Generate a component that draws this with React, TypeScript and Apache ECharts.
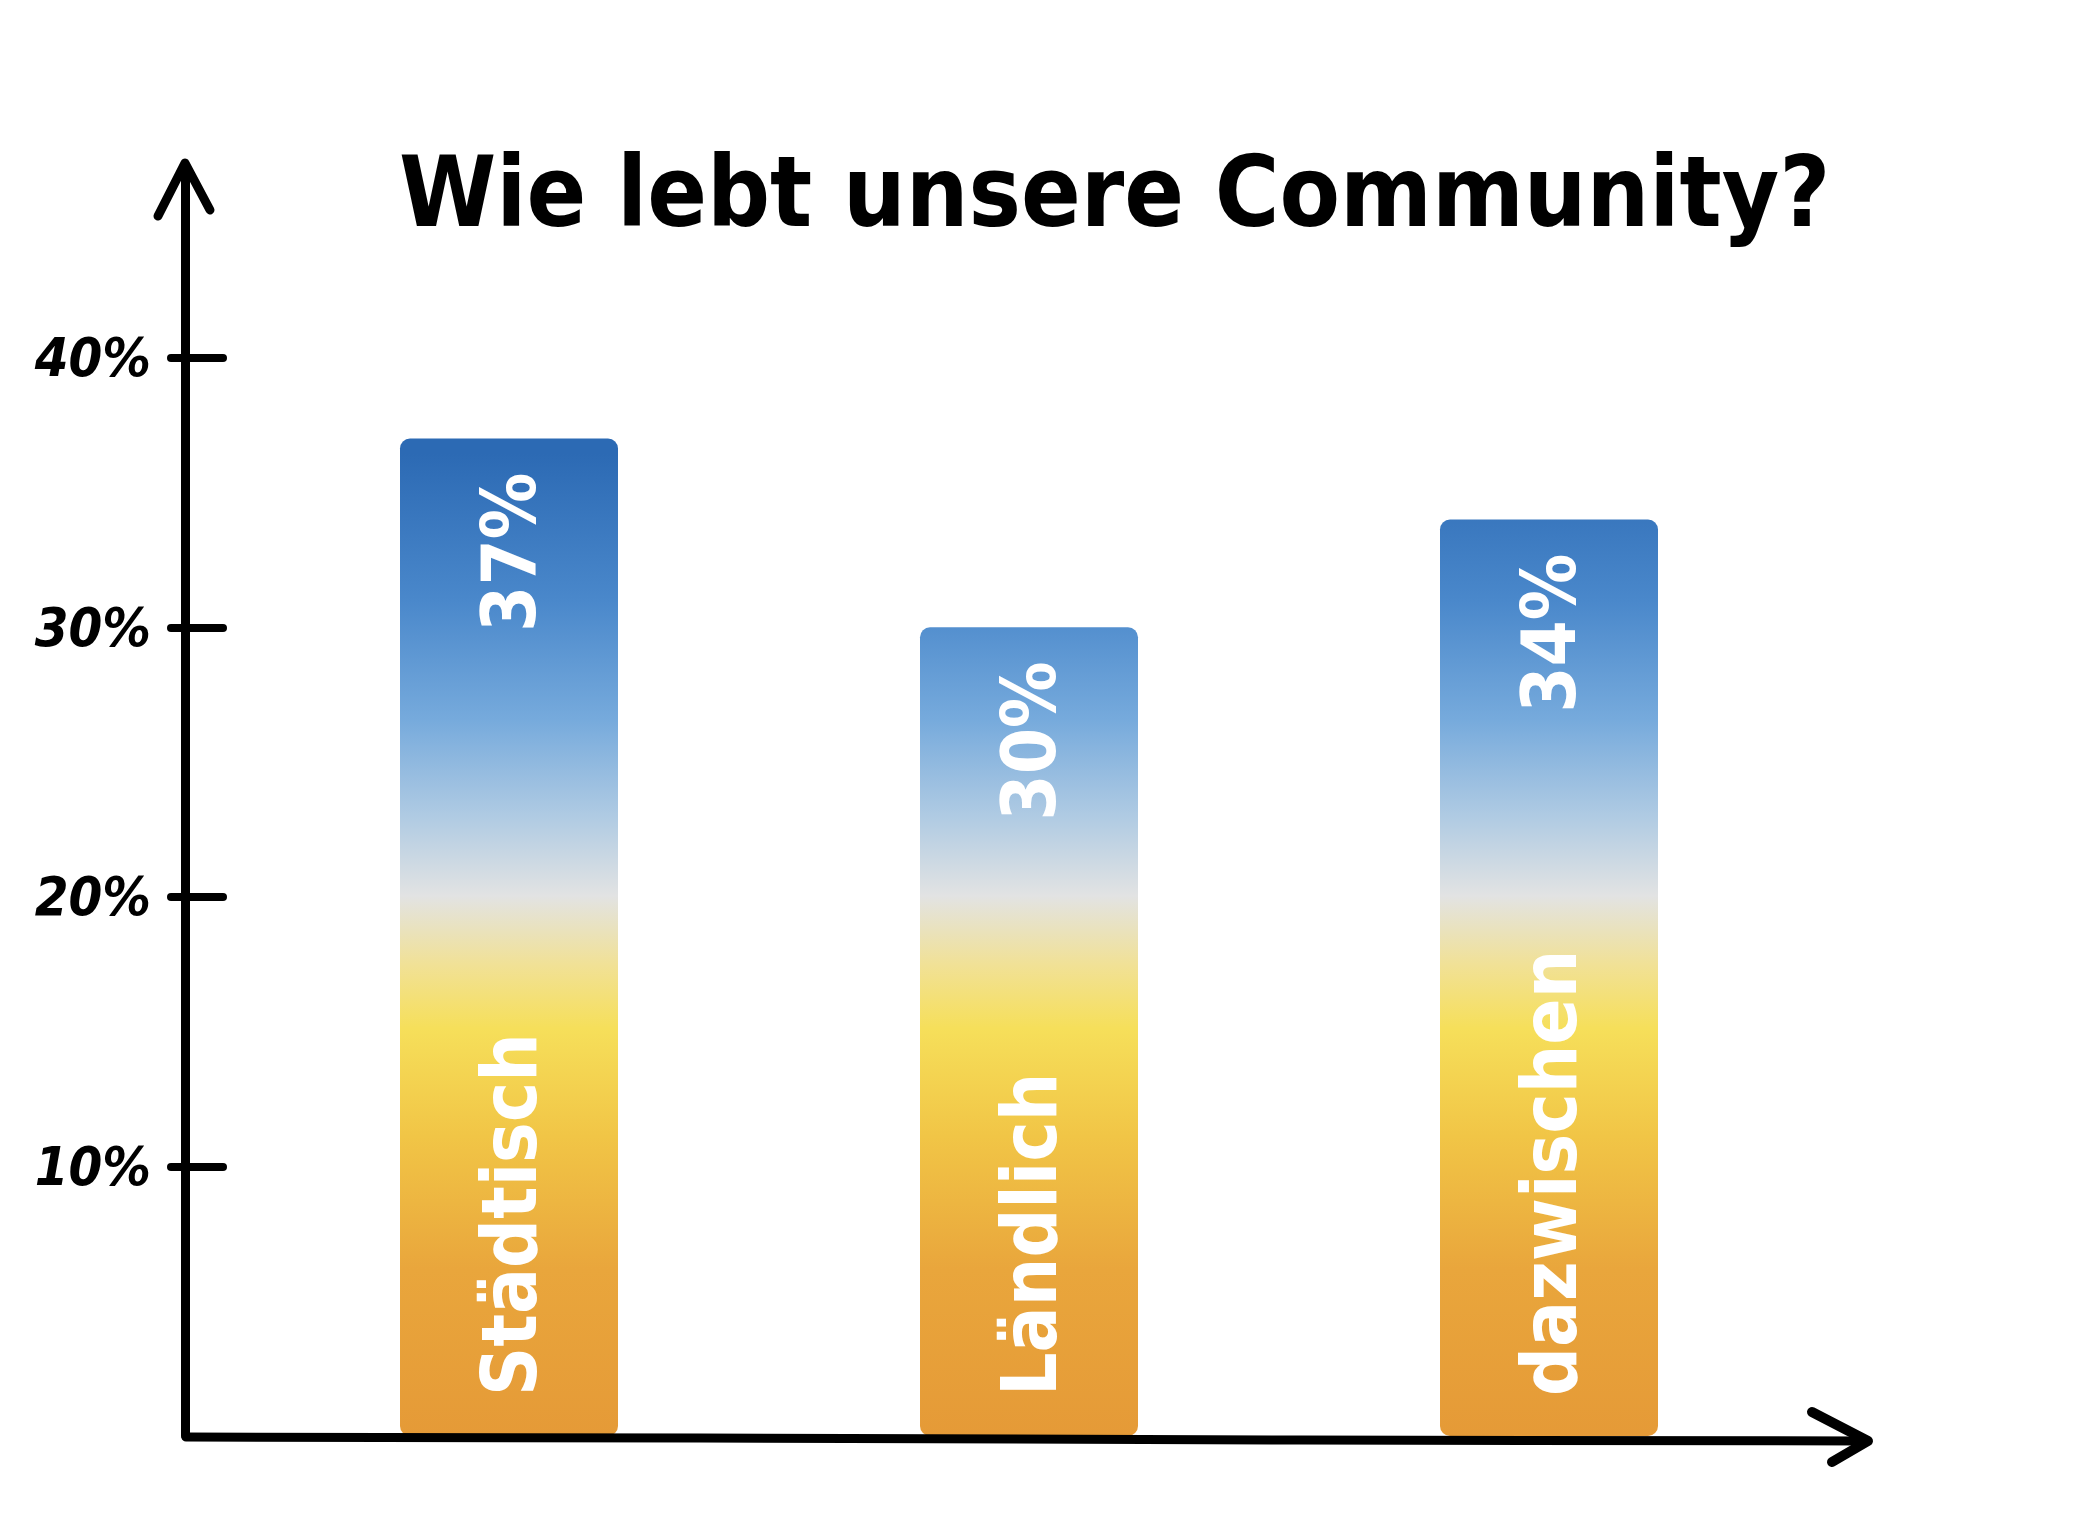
import React, { useEffect, useRef } from "react";
import * as echarts from "echarts";

const titleText = "Wie lebt unsere Community?";
const categories = ["Städtisch", "Ländlich", "dazwischen"];
const values = [37, 30, 34];
const yTickValues = [10, 20, 30, 40];
const yMax = 47;

const FONT = "'Liberation Sans Narrow', 'DejaVu Sans Condensed', 'Roboto', sans-serif";

export default function App() {
  const ref = useRef<HTMLDivElement>(null);

  useEffect(() => {
    const chart = echarts.init(ref.current!, null, { renderer: "svg" });

    const grad = new echarts.graphic.LinearGradient(
      0, 454, 0, 1436,
      [
        { offset: 0, color: "#2c6ab4" },
        { offset: 0.15, color: "#4a88cb" },
        { offset: 0.27, color: "#76aadc" },
        { offset: 0.37, color: "#b0cbe3" },
        { offset: 0.45, color: "#e2e3e3" },
        { offset: 0.52, color: "#f1e196" },
        { offset: 0.585, color: "#f6df5a" },
        { offset: 0.695, color: "#f1c546" },
        { offset: 0.83, color: "#e9a63c" },
        { offset: 1, color: "#e59a37" },
      ],
      true
    );

    const yBase = {
      type: "value",
      min: 0,
      max: yMax,
      interval: 10,
      position: "left",
      offset: 64,
      splitLine: { show: false },
    };

    chart.setOption({
      animation: false,
      backgroundColor: "#ffffff",
      title: {
        text: titleText,
        left: 394,
        top: 138,
        textStyle: { fontSize: 98, fontWeight: "bold", fontFamily: FONT, color: "#000" },
      },
      grid: { left: 249, right: 286, top: 169, bottom: 91, outerBoundsMode: "none" },
      xAxis: {
        type: "category",
        data: categories,
        z: 10,
        axisLine: { show: false },
        axisTick: { show: false },
        axisLabel: {
          inside: true,
          rotate: 90,
          margin: 40,
          interval: 0,
          color: "#ffffff",
          fontSize: 76,
          fontWeight: "bold",
          fontFamily: FONT,
        },
      },
      yAxis: [
        {
          ...yBase,
          axisLine: { show: true, lineStyle: { color: "#000", width: 9, cap: "round" } },
          axisTick: {
            show: true,
            inside: true,
            length: 38,
            customValues: yTickValues,
            lineStyle: { color: "#000", width: 8, cap: "round" },
          },
          axisLabel: {
            customValues: yTickValues,
            formatter: "{value}%",
            margin: 34,
            fontSize: 54,
            fontWeight: "bold",
            fontStyle: "italic",
            fontFamily: FONT,
            color: "#000",
          },
        },
        {
          ...yBase,
          axisLine: { show: false },
          axisTick: {
            show: true,
            inside: false,
            length: 14,
            customValues: yTickValues,
            lineStyle: { color: "#000", width: 8, cap: "round" },
          },
          axisLabel: { show: false },
        },
      ],
      series: [
        {
          type: "bar",
          data: values,
          barWidth: 218,
          yAxisIndex: 0,
          itemStyle: { color: grad, borderRadius: 10 },
          label: {
            show: true,
            position: "insideTop",
            rotate: 90,
            align: "right",
            verticalAlign: "middle",
            distance: 34,
            formatter: "{c}%",
            color: "#ffffff",
            fontSize: 74,
            fontWeight: "bold",
            fontFamily: FONT,
          },
        },
      ],
      graphic: [
        {
          type: "polyline",
          z: 100,
          shape: { points: [[186, 1437], [700, 1438], [1300, 1440], [1866, 1441]] },
          style: { stroke: "#000", lineWidth: 9, lineCap: "round", fill: null },
        },
        {
          type: "polyline",
          z: 100,
          shape: { points: [[1812, 1412], [1868, 1441], [1832, 1462]] },
          style: { stroke: "#000", lineWidth: 10, lineCap: "round", lineJoin: "round", fill: null },
        },
        {
          type: "polyline",
          z: 100,
          shape: { points: [[158, 216], [185, 163], [210, 210]] },
          style: { stroke: "#000", lineWidth: 9, lineCap: "round", lineJoin: "round", fill: null },
        },
      ],
    });

    return () => chart.dispose();
  }, []);

  return (
    <div
      ref={ref}
      style={{ position: "fixed", left: 0, top: 0, width: 2095, height: 1527, background: "#fff" }}
    />
  );
}
